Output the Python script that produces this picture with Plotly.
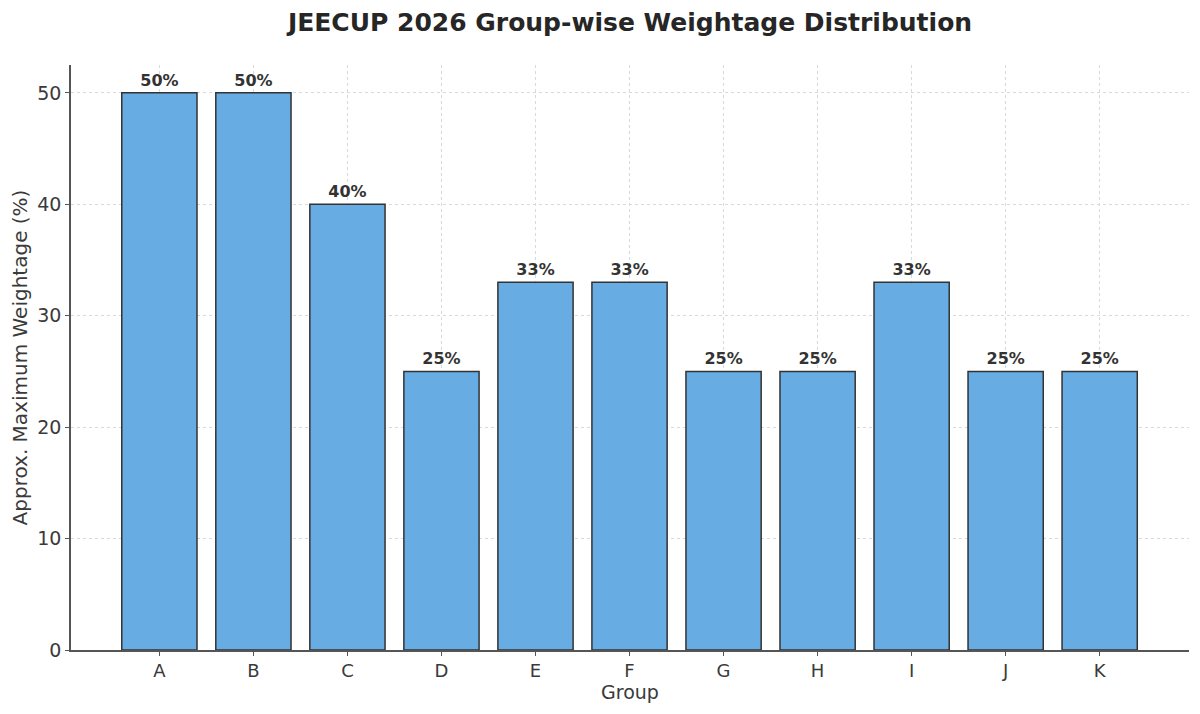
import plotly.graph_objects as go

groups = ['A', 'B', 'C', 'D', 'E', 'F', 'G', 'H', 'I', 'J', 'K']
weightage = [50, 50, 40, 25, 33, 33, 25, 25, 33, 25, 25]
labels = [str(v) + '%' for v in weightage]

fig = go.Figure(data=[go.Bar(
    x=groups, y=weightage,
    text=labels, textposition='outside', cliponaxis=False,
    textfont=dict(family='DejaVu Sans', size=16, color='#333333', weight='bold'),
    marker=dict(color='#67ADE4', line=dict(color='#333333', width=1.5)),
    width=0.8,
)])

# page has an 8px body margin, so margins are shifted to compensate
fig.update_layout(
    width=1200, height=714,
    paper_bgcolor='white', plot_bgcolor='white',
    margin=dict(l=63, r=19, t=57, b=72),
    font=dict(family='DejaVu Sans', color='#3a3a3a'),
    title=dict(text='<b>JEECUP 2026 Group-wise Weightage Distribution</b>',
               xref='paper', x=0.5, xanchor='center', y=0.980, yanchor='middle',
               font=dict(size=25, color='#262626')),
    showlegend=False,
)
fig.update_xaxes(
    title=dict(text='Group', font=dict(size=19), standoff=5),
    range=[-0.94, 10.95], showline=True, linecolor='#555555', linewidth=1.5,
    ticks='outside', ticklen=4, tickcolor='#555555',
    tickfont=dict(size=18),
    showgrid=True, gridcolor='#d9d9d9', griddash='dot', gridwidth=1,
    layer='above traces', zeroline=False, automargin=False,
)
fig.update_yaxes(
    title=dict(text='Approx. Maximum Weightage (%)', font=dict(size=20), standoff=8),
    range=[0, 52.5], showline=True, linecolor='#555555', linewidth=1.5,
    ticks='outside', ticklen=4, tickcolor='#555555',
    tickvals=[0, 10, 20, 30, 40, 50], tickfont=dict(size=19),
    showgrid=True, gridcolor='#d9d9d9', griddash='dot', gridwidth=1,
    layer='above traces', zeroline=False, automargin=False,
)

fig.write_html('out.html')
